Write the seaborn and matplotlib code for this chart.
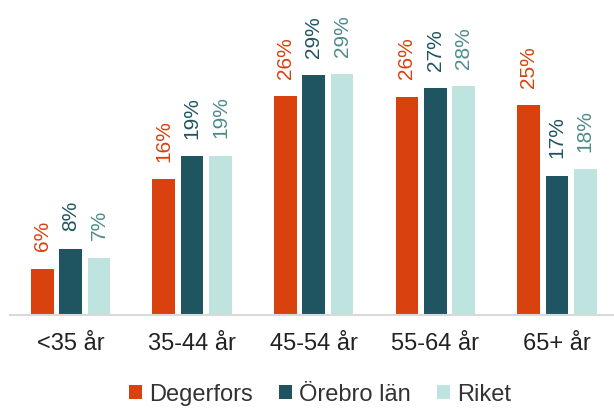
import pandas as pd
import matplotlib.pyplot as plt
import seaborn as sns

# Values (percent)
age_groups = ['<35 år', '35-44 år', '45-54 år', '55-64 år', '65+ år']
series = ['Degerfors', 'Örebro län', 'Riket']
degerfors = [5.6, 16.4, 26.4, 26.3, 25.3]
orebro_lan = [8.0, 19.1, 28.9, 27.3, 16.8]
riket = [6.9, 19.2, 29.0, 27.6, 17.6]

bar_colors = ['#D9410F', '#1F5560', '#BFE3DF']
label_colors = ['#D9410F', '#1F5560', '#4E8B8B']

# Long form table for seaborn
rows = []
for name, vals in zip(series, [degerfors, orebro_lan, riket]):
    for grp, v in zip(age_groups, vals):
        rows.append({'group': grp, 'area': name, 'pct': v})
df = pd.DataFrame(rows)

sns.set_theme(style='white')
plt.rcParams['font.family'] = ['Liberation Sans', 'DejaVu Sans']

fig = plt.figure(figsize=(6.14, 4.08), dpi=100)
ax = fig.add_axes([9.75 / 614, 93 / 408, 1 - 9.75 / 614, 315 / 408])

sns.barplot(data=df, x='group', y='pct', hue='area', order=age_groups,
            hue_order=series, palette=bar_colors, width=0.7, gap=0.2,
            linewidth=0, saturation=1, ax=ax, legend=True)

for cont, vals, col in zip(ax.containers, [degerfors, orebro_lan, riket], label_colors):
    ax.bar_label(cont, labels=[f'{round(v)}%' for v in vals], rotation=90,
                 padding=12.5, color=col, fontsize=15)

ax.set_xlim(-0.5, 4.47)
ax.set_ylim(0, 37.95)
ax.set_xlabel('')
ax.set_ylabel('')
ax.set_yticks([])
ax.tick_params(axis='x', length=0, pad=13, labelsize=17, labelcolor='#222222')
for side in ['top', 'left', 'right']:
    ax.spines[side].set_visible(False)
ax.spines['bottom'].set_color('#D9D9D9')
ax.spines['bottom'].set_linewidth(1.5)

handles, labels = ax.get_legend_handles_labels()
ax.get_legend().remove()
fig.legend(handles, labels, loc='center', bbox_to_anchor=(0.521, 0.033),
           ncol=3, frameon=False, fontsize=17, handlelength=0.55,
           handleheight=0.55, handletextpad=0.3, columnspacing=1.1,
           borderpad=0, labelcolor='#333333')

fig.savefig('out.png', dpi=100)
